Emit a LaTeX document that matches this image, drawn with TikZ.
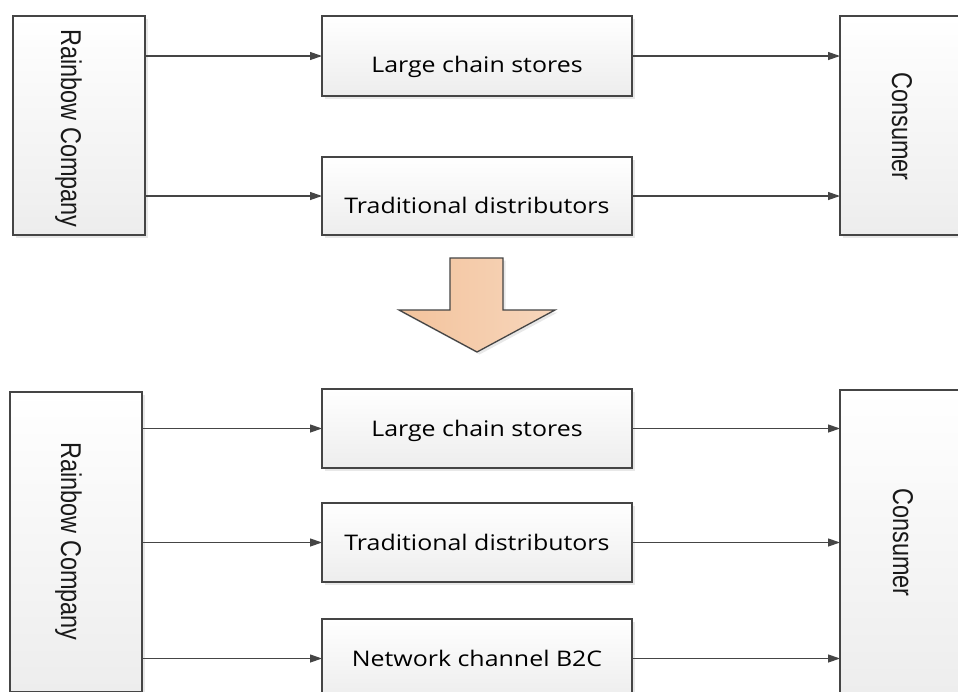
\documentclass[tikz,border=0pt]{standalone}
\usepackage{fontspec}
\usetikzlibrary{arrows.meta,shadows}
\newfontfamily\boxlabelfont[FakeStretch=1.16]{Open Sans}
\newfontfamily\sidelabelfont[FakeStretch=0.82]{Liberation Sans}
\definecolor{edgegray}{HTML}{454545}
\definecolor{boxbottom}{HTML}{EDEDED}
\definecolor{arrowleft}{HTML}{F3C39C}
\definecolor{arrowright}{HTML}{F7D6BC}
\tikzset{
  box/.style={draw=edgegray, line width=1.4pt, rectangle, inner sep=0pt, outer sep=0pt,
    top color=white, bottom color=boxbottom,
    drop shadow={shadow xshift=2.5pt, shadow yshift=-2.5pt, fill=black!9, opacity=1}},
  chanbox/.style={box, minimum width=310pt},
  sidebox/.style={box},
  chantext/.style={font=\boxlabelfont\fontsize{21.5}{26}\selectfont, text=black,
    text height=15.35pt, text depth=0pt, inner sep=0pt},
  sidetext/.style={font=\sidelabelfont\fontsize{28.6}{34}\selectfont, text=black!90,
    rotate=-90, inner sep=0pt},
  link/.style={draw=edgegray, line width=1.2pt, -{Triangle[length=12pt,width=8pt]}},
}
\begin{document}
\begin{tikzpicture}[x=1pt,y=-1pt]
\useasboundingbox (0,0) rectangle (958,691);
\fill[white] (0,0) rectangle (958,691);
\clip (0,0) rectangle (958,691);

% ---- current channels ----
\node[sidebox, minimum width=132pt, minimum height=219pt] (rc1) at (79,125.5) {};
\node[sidetext] (rc1t) at (68.5,128.5) {Rainbow Company};
\node[chanbox, minimum height=80pt] (lcs1) at (477,56) {};
\node[chantext] (lcs1t) at ([yshift=-9pt]lcs1.center) {Large chain stores};
\node[chanbox, minimum height=78pt] (td1) at (477,196) {};
\node[chantext] (td1t) at ([yshift=-9.5pt]td1.center) {Traditional distributors};
\node[sidebox, minimum width=124pt, minimum height=219pt] (con1) at (902,125.5) {};
\node[sidetext] (con1t) at (902,126.5) {Consumer};

\draw[link] (lcs1.west -| rc1.east) -- (lcs1.west);
\draw[link] (td1.west -| rc1.east) -- (td1.west);
\draw[link] (lcs1.east) -- (lcs1.east -| con1.west);
\draw[link] (td1.east) -- (td1.east -| con1.west);

% ---- transition arrow ----
\fill[black!9] (452.5,260.5) -- (505.5,260.5) -- (505.5,312.5) -- (557.5,312.5)
  -- (479.5,354.5) -- (401.5,312.5) -- (452.5,312.5) -- cycle;
\draw[edgegray, line width=1.3pt, left color=arrowleft, right color=arrowright, line join=miter]
  (450,258) -- (503,258) -- (503,310) -- (555,310) -- (477,352) -- (399,310) -- (450,310) -- cycle;

% ---- channels with B2C ----
\node[sidebox, minimum width=132pt, minimum height=300pt] (rc2) at (76,542) {};
\node[sidetext] (rc2t) at (68.5,541.5) {Rainbow Company};
\node[chanbox, minimum height=79pt] (lcs2) at (477,428.5) {};
\node[chantext] (lcs2t) at (lcs2.center) {Large chain stores};
\node[chanbox, minimum height=79pt] (td2) at (477,542.5) {};
\node[chantext] (td2t) at (td2.center) {Traditional distributors};
\node[chanbox, minimum height=79pt] (net2) at (477,658.5) {};
\node[chantext] (net2t) at (net2.center) {Network channel B2C};
\node[sidebox, minimum width=124pt, minimum height=304pt] (con2) at (902,542) {};
\node[sidetext] (con2t) at (903,542.5) {Consumer};

\draw[link] (lcs2.west -| rc2.east) -- (lcs2.west);
\draw[link] (td2.west -| rc2.east) -- (td2.west);
\draw[link] (net2.west -| rc2.east) -- (net2.west);
\draw[link] (lcs2.east) -- (lcs2.east -| con2.west);
\draw[link] (td2.east) -- (td2.east -| con2.west);
\draw[link] (net2.east) -- (net2.east -| con2.west);
\end{tikzpicture}
\end{document}
